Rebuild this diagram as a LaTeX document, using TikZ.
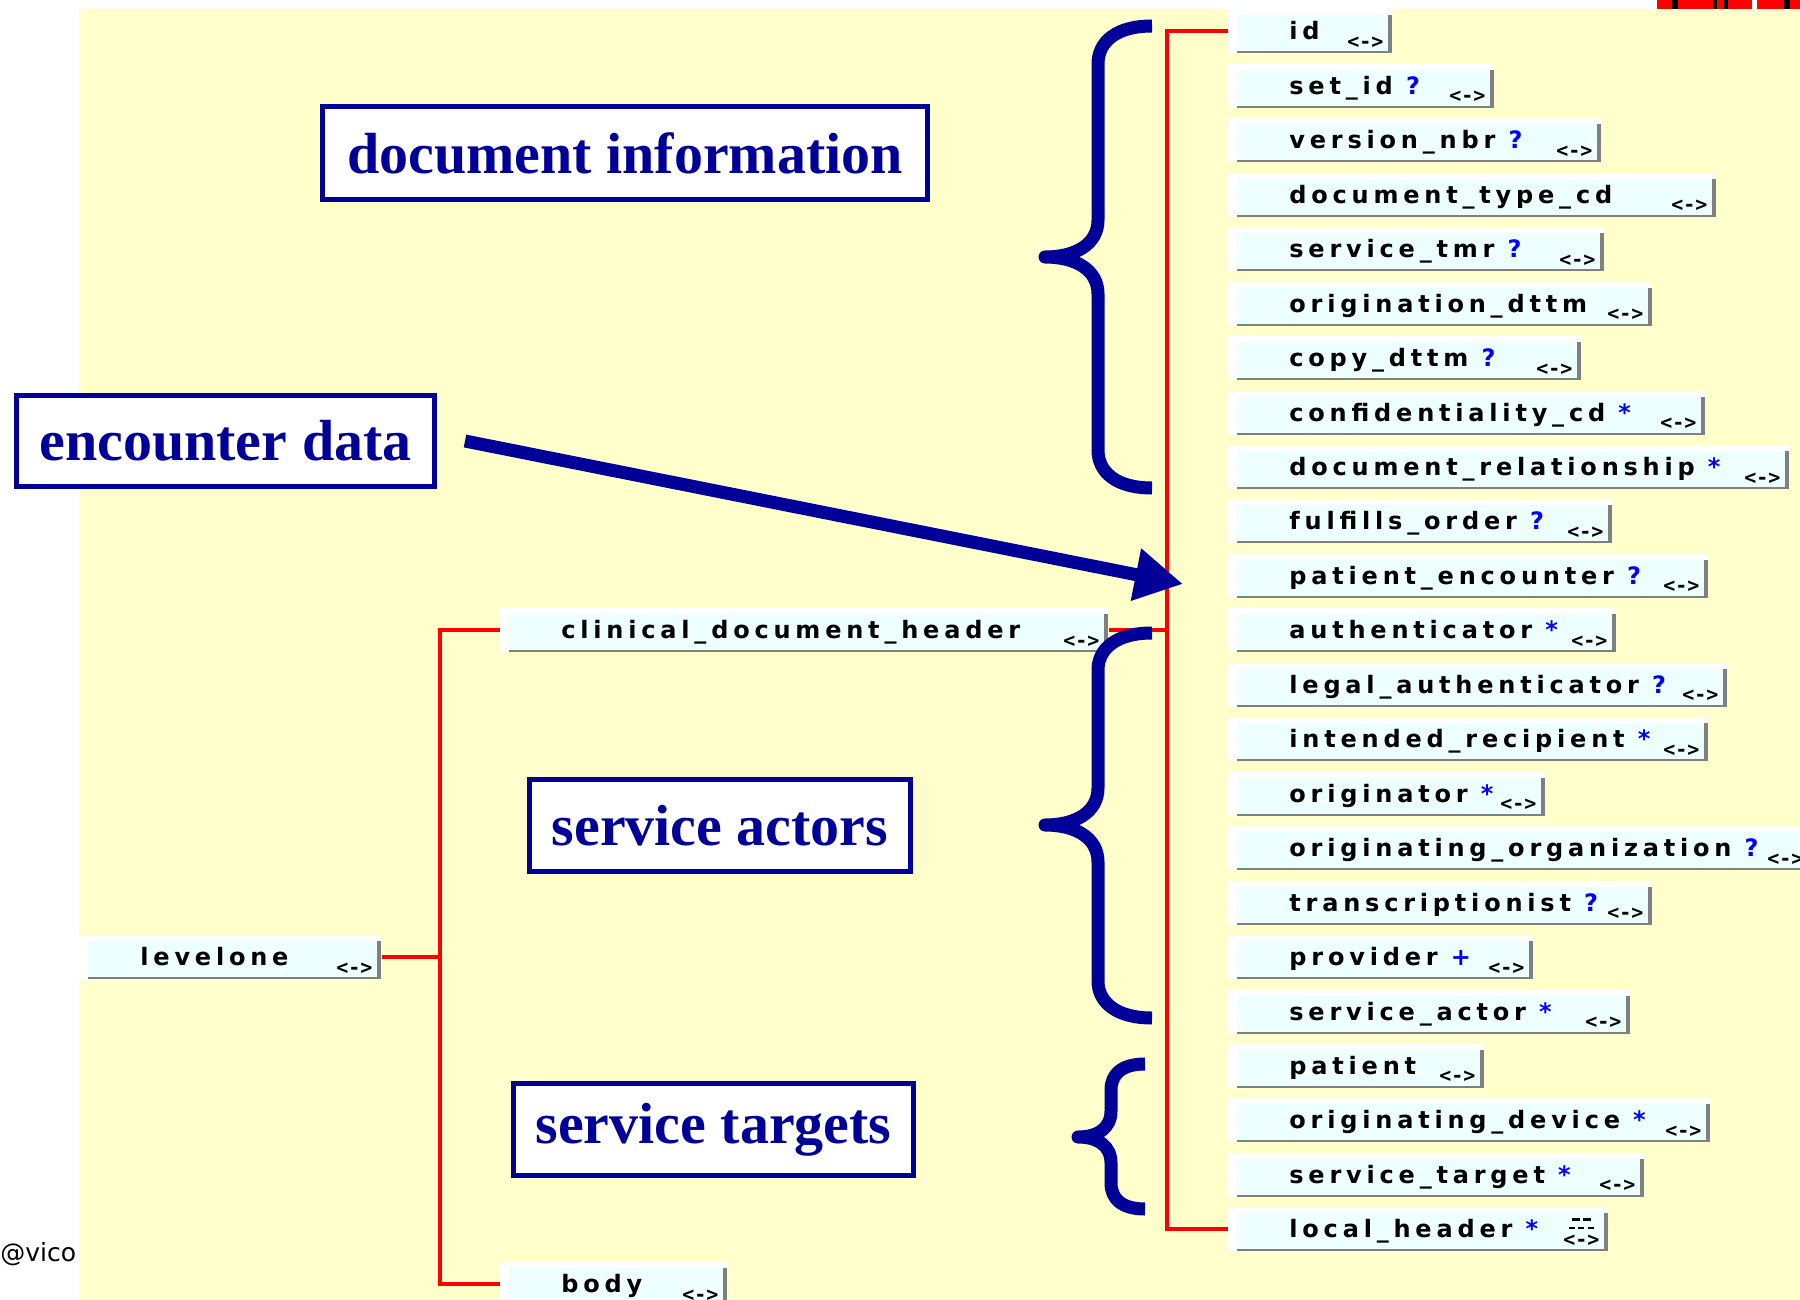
\documentclass[tikz,border=0pt]{standalone}
\usepackage{fontspec}
\setmainfont{Liberation Serif}
\newfontfamily\titlefam{Liberation Serif}
\newfontfamily\elemfam{DejaVu Sans}[LetterSpace=20]
\newfontfamily\icofam{DejaVu Sans Mono}
\newfontfamily\notefam{DejaVu Sans}
\usetikzlibrary{arrows.meta}
\definecolor{paper}{HTML}{FFFFCC}
\definecolor{navy}{HTML}{000099}
\definecolor{boxcyan}{HTML}{EEFFFF}
\definecolor{boxgrey}{HTML}{808080}
\definecolor{mkblue}{HTML}{0000FF}
\newcommand\lr{{\icofam\bfseries\fontsize{10}{10}\selectfont <->}}
\newcommand\lrmore{{\icofam\bfseries\fontsize{10}{10}\selectfont
  \shortstack{\rule{4pt}{1.2pt}\,\rule{4pt}{1.2pt}\\
    \rule{3pt}{1.2pt}\,\rule{3pt}{1.2pt}\,\rule{3pt}{1.2pt}\\<->}}}
\newcommand\q{{\color{mkblue}?}}
\newcommand\st{{\color{mkblue}*}}
\newcommand\pl{{\color{mkblue}+}}
% element box: [icon]{name}{left}{top}{right}{text}
\newcommand\elem[6][\lr]{%
  \pgfmathsetmacro\bw{(#5-#3)/2}%
  \node[elem, label={[icon]south east:#1}] (#2) at (#3,#4)
    {\makebox[\bw pt][l]{\hspace*{30.5pt}#6}};}
\tikzset{
  elem/.style={rectangle, anchor=north west, inner sep=0pt, fill=white,
    text height=15.25pt, text depth=6.75pt,
    font=\elemfam\bfseries\fontsize{12}{12}\selectfont,
    path picture={
      \fill[boxcyan] ([xshift=4.5pt,yshift=-3pt]path picture bounding box.north west)
        rectangle ([xshift=-2pt,yshift=1pt]path picture bounding box.south east);
      \fill[boxgrey] ([xshift=-2pt,yshift=-3pt]path picture bounding box.north east)
        rectangle (path picture bounding box.south east);
      \fill[boxgrey] ([xshift=4.5pt]path picture bounding box.south west)
        rectangle ([yshift=1pt]path picture bounding box.south east);
    }},
  icon/.style={anchor=south east, inner sep=0pt, xshift=-4.5pt, yshift=2.5pt},
  titlebox/.style={draw=navy, line width=2.5pt, fill=white, text=navy, inner sep=0pt,
    font=\titlefam\bfseries\fontsize{29}{29}\selectfont},
  tree/.style={red, line width=2pt},
  curly/.style={navy, line width=6.5pt, line join=round}
}
\begin{document}
\begin{tikzpicture}[x=0.5pt, y=-0.5pt]
\useasboundingbox (0,0) rectangle (1800,1300);
\fill[white] (0,0) rectangle (1800,1300);
\fill[paper] (79,9) rectangle (1800,1300);
% scrap of a picture at the top right
\fill[red] (1657,0) rectangle (1800,9);
\foreach \a/\b in {1672/1678, 1713/1717, 1724/1728, 1784/1790}
{
    \fill[black] (\a,0) rectangle (\b,9);
}
\fill[white] (1752,0) rectangle (1757,9);

% left part of the tree
\elem{levelone}{79}{935}{381}{levelone}
\elem{cdh}{500}{608}{1108}{clinical\_document\_header}
\elem{body}{500}{1262}{727}{body}

% children of clinical_document_header
\foreach \nm/\txt/\r [count=\i from 0] in {
    id/{id}/1392,
    setid/{set\_id \q}/1494,
    version/{version\_nbr \q}/1601,
    doctype/{document\_type\_cd}/1716,
    tmr/{service\_tmr \q}/1604,
    orig/{origination\_dttm}/1652,
    copy/{copy\_dttm \q}/1581,
    conf/{confidentiality\_cd \st}/1705,
    docrel/{document\_relationship \st}/1789,
    order/{fulfills\_order \q}/1612,
    encounter/{patient\_encounter \q}/1708,
    auth/{authenticator \st}/1616,
    legal/{legal\_authenticator \q}/1727,
    recip/{intended\_recipient \st}/1708,
    originator/{originator \st}/1545,
    org/{originating\_organization \q}/1812,
    transc/{transcriptionist \q}/1652,
    provider/{provider \pl}/1533,
    actor/{service\_actor \st}/1630,
    patient/{patient}/1484,
    device/{originating\_device \st}/1710,
    target/{service\_target \st}/1644}
{
    \elem{\nm}{1228}{9+54.45*\i}{\r}{\txt}
}
\elem[\lrmore]{localheader}{1228}{1207}{1608}{local\_header \st}

\coordinate (ltrunk) at (440,0);
\coordinate (rtrunk) at (1167,0);
\draw[tree] (cdh.west) -- (cdh.west -| ltrunk) |- (body.west);
\draw[tree] (levelone.east) -- (levelone.east -| ltrunk);
\draw[tree] (id.west) -- (id.west -| rtrunk) |- (localheader.west);
\draw[tree] (cdh.east) -- (cdh.east -| rtrunk);

% group labels
\node[titlebox, minimum width=302.5pt, minimum height=46.5pt] (docinfo) at (625,153) {document information};
\node[titlebox, minimum width=209pt, minimum height=45.5pt] (encdata) at (225.5,441) {encounter data};
\node[titlebox, minimum width=190.5pt, minimum height=46pt] (actors) at (720,825.5) {service actors};
\node[titlebox, minimum width=200pt, minimum height=46pt] (targets) at (713.5,1129.5) {service targets};

% braces
\draw[curly] (1152,26) .. controls (1116,26) and (1098,42) .. (1098,64) -- (1098,220)
    .. controls (1098,244) and (1076,257) .. (1045,257)
    .. controls (1076,257) and (1098,270) .. (1098,294) -- (1098,450)
    .. controls (1098,472) and (1116,488) .. (1152,488);
\draw[curly] (1152,633) .. controls (1116,633) and (1098,649) .. (1098,670) -- (1098,788)
    .. controls (1098,812) and (1076,825) .. (1045,825)
    .. controls (1076,825) and (1098,838) .. (1098,862) -- (1098,981)
    .. controls (1098,1002) and (1116,1018) .. (1152,1018);
\draw[curly] (1145,1064) .. controls (1122,1064) and (1111,1074) .. (1111,1090) -- (1111,1111)
    .. controls (1111,1128) and (1098,1137) .. (1078,1137)
    .. controls (1098,1137) and (1111,1146) .. (1111,1163) -- (1111,1183)
    .. controls (1111,1199) and (1122,1209) .. (1145,1209);

% encounter arrow
\coordinate (enctip) at (1183,584);
\draw[navy, line width=6.5pt, -{Triangle[length=24pt, width=25pt]}] ([xshift=14pt]encdata.east) -- (enctip);

\node[font=\notefam\fontsize{12.5}{12.5}\selectfont, anchor=base west, inner sep=0pt] (credit) at (0,1261) {@vico};
\end{tikzpicture}
\end{document}
